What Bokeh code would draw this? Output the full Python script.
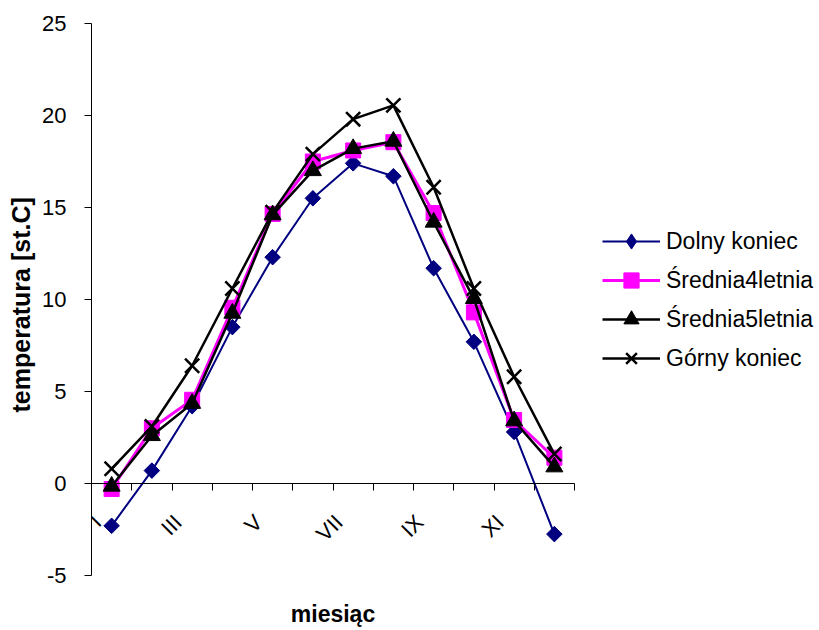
import numpy as np
from bokeh.plotting import figure
from bokeh.models import (LinearAxis, FixedTicker, Range1d, Legend, LegendItem, Label, Title)
from bokeh.embed import file_html
from bokeh.resources import INLINE

months = ["I", "II", "III", "IV", "V", "VI", "VII", "VIII", "IX", "X", "XI", "XII"]
dolny = [-2.3, 0.7, 4.2, 8.5, 12.3, 15.5, 17.4, 16.7, 11.7, 7.7, 2.8, -2.75]
srednia4 = [-0.3, 3.0, 4.55, 9.55, 14.65, 17.5, 18.1, 18.55, 14.7, 9.3, 3.45, 1.4]
srednia5 = [-0.15, 2.6, 4.35, 9.25, 14.6, 17.0, 18.2, 18.6, 14.2, 10.05, 3.4, 0.9]
gorny = [0.8, 3.1, 6.4, 10.6, 14.75, 17.9, 19.8, 20.55, 16.1, 10.6, 5.8, 1.6]
y_ticks = [-5, 0, 5, 10, 15, 20, 25]
names = ["Dolny koniec", "Średnia4letnia", "Średnia5letnia", "Górny koniec"]

FONT = "Liberation Sans"
n = len(months)
x = np.arange(1, n + 1)

# Plot frame fills the canvas right of / below the axes; axes are bounded to the data region.
W, H = 819, 630
left, top = 91, 23
px_per_cat = 40.25
px_per_deg = 18.4
y_min, y_max = y_ticks[0], y_ticks[-1]
x_end = 0.5 + (W - left) / px_per_cat
y_start = y_max - (H - top) / px_per_deg
frame_bottom_val_px = top + (y_max - y_min) * px_per_deg  # pixel row of y_min

p = figure(width=W, height=H, output_backend="svg", toolbar_location=None,
           x_range=Range1d(0.5, x_end), y_range=Range1d(y_start, y_max),
           x_axis_location=None, y_axis_location=None,
           min_border_left=left, min_border_right=0, min_border_top=top, min_border_bottom=0)
p.outline_line_color = None
p.xgrid.visible = False
p.ygrid.visible = False
p.background_fill_color = "white"
p.border_fill_color = "white"

# y axis
yax = LinearAxis(ticker=FixedTicker(ticks=y_ticks), bounds=(y_min, y_max))
yax.major_label_overrides = {t: str(t) for t in y_ticks}
yax.major_tick_in = 0
yax.major_tick_out = 7
yax.minor_tick_out = 0
yax.minor_tick_in = 0
yax.major_label_standoff = 18
yax.major_label_text_font = FONT
yax.major_label_text_font_size = "22px"
yax.major_label_text_color = "black"
yax.axis_line_color = "black"
yax.major_tick_line_color = "black"
p.add_layout(yax, "left")

# y axis title, centred on the -5..25 span
ytitle = Title(text="temperatura [st.C]", align="left", vertical_align="middle",
               offset=int(round(H - (frame_bottom_val_px + top) / 2 - 113)), standoff=7,
               text_font=FONT, text_font_size="25px", text_font_style="bold",
               text_color="black")
p.add_layout(ytitle, "left")

# x axis at y=0 : boundary ticks
xb = LinearAxis(fixed_location=0, bounds=(0.5, n + 0.5),
                ticker=FixedTicker(ticks=list(np.arange(0.5, n + 1, 1.0))))
xb.major_tick_in = 0
xb.major_tick_out = 7
xb.minor_tick_out = 0
xb.major_label_text_alpha = 0
xb.major_label_text_font_size = "1px"
xb.axis_line_color = "black"
xb.major_tick_line_color = "black"
p.add_layout(xb, "below")

# x axis labels (every other month), rotated
label_idx = list(range(0, n, 2))
label_pos = [float(i + 1) - 0.35 for i in label_idx]
xl = LinearAxis(fixed_location=0, ticker=FixedTicker(ticks=label_pos))
xl.major_label_overrides = {pos: months[i] for pos, i in zip(label_pos, label_idx)}
xl.axis_line_alpha = 0
xl.major_tick_out = 0
xl.major_tick_in = 0
xl.minor_tick_out = 0
xl.major_label_orientation = np.pi / 4
xl.major_label_standoff = 35
xl.major_label_text_font = FONT
xl.major_label_text_font_size = "22px"
xl.major_label_text_color = "black"
p.add_layout(xl, "below")

# x axis title, centred under the 12 months
xtitle = Label(x=(n + 1) / 2, y=y_max - (613 - top) / px_per_deg, text="miesiąc",
               text_align="center", text_baseline="alphabetic",
               text_font=FONT, text_font_size="23px", text_font_style="bold",
               text_color="black")
p.add_layout(xtitle)

items = []
r1 = p.line(x, dolny, line_color="#000080", line_width=2)
r1k = p.scatter(x, dolny, marker="diamond", size=14,
                fill_color="#000080", line_color="#000080")
p.scatter(x, dolny, marker="square", angle=np.pi / 4, size=11,
          fill_color="#000080", line_color="#000080")
items.append(LegendItem(label=names[0], renderers=[r1, r1k]))

r2 = p.line(x, srednia4, line_color="#FF00FF", line_width=3)
r2m = p.scatter(x, srednia4, marker="square", size=15,
                fill_color="#FF00FF", line_color="#FF00FF")
items.append(LegendItem(label=names[1], renderers=[r2, r2m]))

r3 = p.line(x, srednia5, line_color="black", line_width=2.5)
r3m = p.scatter(x, srednia5, marker="triangle", size=17,
                fill_color="black", line_color="black")
items.append(LegendItem(label=names[2], renderers=[r3, r3m]))

r4 = p.line(x, gorny, line_color="black", line_width=2.5)
r4m = p.scatter(x, gorny, marker="x", size=20, line_color="black", line_width=2.5)
items.append(LegendItem(label=names[3], renderers=[r4, r4m]))

legend = Legend(items=items, location=(511, 253))
legend.label_text_font = FONT
legend.label_text_font_size = "23px"
legend.label_text_color = "black"
legend.glyph_width = 58
legend.glyph_height = 38
legend.label_height = 20
legend.label_standoff = 6
legend.spacing = 1
legend.padding = 0
legend.margin = 0
legend.border_line_alpha = 0
legend.background_fill_alpha = 0
p.add_layout(legend)

open("out.html", "w").write(file_html(p, INLINE))
